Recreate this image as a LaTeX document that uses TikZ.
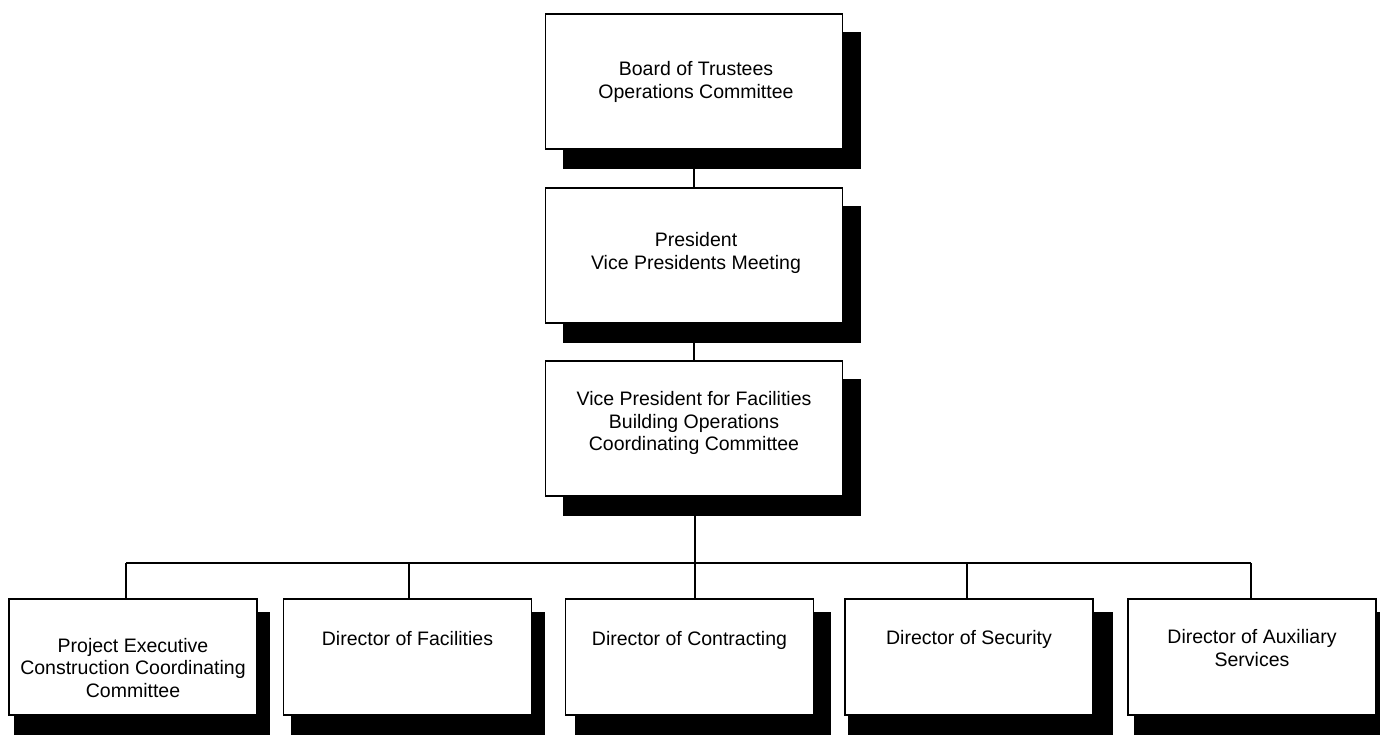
\documentclass[tikz,border=0pt]{standalone}
\usepackage{fontspec}
\setmainfont{Liberation Sans}
\usetikzlibrary{backgrounds}
\begin{document}
\begin{tikzpicture}[x=0.5pt,y=-0.5pt,
  topbox/.style={draw=black, line width=0.9pt, fill=white, rectangle, inner sep=0pt,
    minimum width=148.5pt, minimum height=67.5pt},
  lowbox/.style={draw=black, line width=0.9pt, fill=white, rectangle, inner sep=0pt,
    minimum width=124pt, minimum height=58pt},
  lbl/.style={align=center, font=\fontsize{9.75pt}{11.4pt}\selectfont, inner sep=0pt},
  conn/.style={draw=black, line width=0.9pt},
  shade/.style={fill=black}]
\useasboundingbox (0,0) rectangle (1380,734);

% upper chain
\node[topbox] (b1) at (694,81.5) {};
\node[topbox] (b2) at (694,255.5) {};
\node[topbox] (b3) at (694,428.5) {};
\node[lbl] (t1) at (696,82) {Board of Trustees\\Operations Committee};
\node[lbl] (t2) at (696,253) {President\\Vice Presidents Meeting};
\node[lbl] (t3) at (694,423) {Vice President for Facilities\\Building Operations\\Coordinating Committee};

% lower row
\node[lowbox] (p1) at (133,657) {};
\node[lowbox] (p2) at (407.5,657) {};
\node[lowbox] (p3) at (689.5,657) {};
\node[lowbox] (p4) at (969,657) {};
\node[lowbox] (p5) at (1252,657) {};
\node[lbl] (q1) at (133,668) {Project Executive\\Construction Coordinating\\Committee};
\node[lbl] (q2) at (407.5,639) {Director of Facilities};
\node[lbl] (q3) at (689.5,640) {Director of Contracting};
\node[lbl] (q4) at (969,639) {Director of Security};
\node[lbl] (q5) at (1252,648) {Director of Auxiliary\\Services};

% bus junctions
\coordinate (hub) at (695,563);
\coordinate (j1) at (126,563);
\coordinate (j2) at (409,563);
\coordinate (j3) at (695,563);
\coordinate (j4) at (967,563);
\coordinate (j5) at (1251,563);

\begin{pgfonlayer}{background}
  % connectors
  \draw[conn] (b1.south) -- (b2.north);
  \draw[conn] (b2.south) -- (b3.north);
  \draw[conn] (b3.south -| hub) -- (hub);
  \draw[conn] (j1) -- (j5);
  \draw[conn] (j1) -- (j1 |- p1.north);
  \draw[conn] (j2) -- (j2 |- p2.north);
  \draw[conn] (j3) -- (j3 |- p3.north);
  \draw[conn] (j4) -- (j4 |- p4.north);
  \draw[conn] (j5) -- (j5 |- p5.north);
  % shadows
  \fill[shade] ([shift={(18,19)}]b1.north west) rectangle ([shift={(18,19)}]b1.south east);
  \fill[shade] ([shift={(18,19)}]b2.north west) rectangle ([shift={(18,19)}]b2.south east);
  \fill[shade] ([shift={(18,19)}]b3.north west) rectangle ([shift={(18,19)}]b3.south east);
  \fill[shade] ([shift={(6,14)}]p1.north west) rectangle ([shift={(12,30)}]p1.south east);
  \fill[shade] ([shift={(8,14)}]p2.north west) rectangle ([shift={(13,30)}]p2.south east);
  \fill[shade] ([shift={(10,14)}]p3.north west) rectangle ([shift={(17,30)}]p3.south east);
  \fill[shade] ([shift={(4,14)}]p4.north west) rectangle ([shift={(19,30)}]p4.south east);
  \fill[shade] ([shift={(7,14)}]p5.north west) rectangle ([shift={(19,30)}]p5.south east);
\end{pgfonlayer}
\end{tikzpicture}
\end{document}
